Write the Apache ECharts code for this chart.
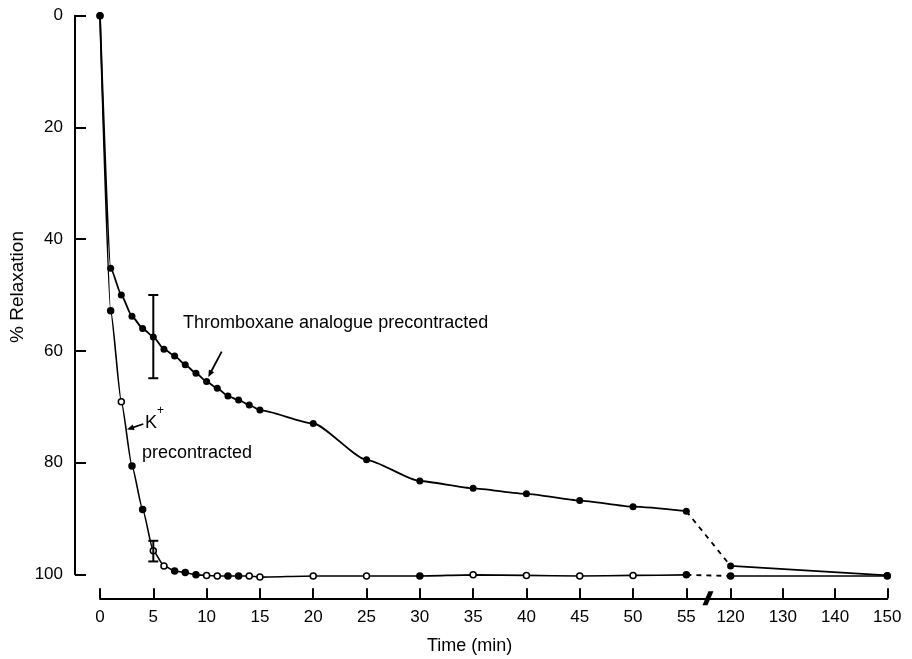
<!DOCTYPE html>
<html>
<head>
<meta charset="utf-8">
<title>% Relaxation vs Time</title>
<script src="https://cdn.jsdelivr.net/npm/echarts@6/dist/echarts.min.js"></script>
<style>
  html, body { margin: 0; padding: 0; background: #fff; }
  #chart { width: 912px; height: 659px; }
</style>
</head>
<body>
<div id="chart"></div>
<script>
// Sampling times (min) and % relaxation for the two precontraction protocols
const times = [0, 1, 2, 3, 4, 5, 6, 7, 8, 9, 10, 11, 12, 13, 14, 15, 20, 25, 30, 35, 40, 45, 50, 55, 120, 150];
const thromboxane = [0, 45.2, 50.0, 53.8, 56.0, 57.5, 59.7, 60.9, 62.5, 64.0, 65.5, 66.7, 68.1, 68.8, 69.7, 70.6,
  73.0, 79.5, 83.3, 84.6, 85.6, 86.8, 87.9, 88.7, 98.5, 100.2];
const potassium = [0, 52.8, 69.1, 80.6, 88.4, 95.8, 98.5, 99.4, 99.7, 100.1, 100.2, 100.3, 100.3, 100.3, 100.3, 100.5,
  100.3, 100.3, 100.3, 100.1, 100.2, 100.3, 100.2, 100.1, 100.3, 100.3];
// Error bars at 5 min: [time, upper, lower]
const thromboxaneErr = [[5, 50.0, 64.9]];
const potassiumErr = [[5, 94.0, 97.7]];
// Axis ticks
const xTickLabels = [0, 5, 10, 15, 20, 25, 30, 35, 40, 45, 50, 55, 120, 130, 140, 150];
const yTickLabels = [0, 20, 40, 60, 80, 100];
// K+ points printed as solid dots (the rest are open circles)
const potassiumSolidAt = [1, 3, 4, 7, 8, 9, 12, 13, 30, 55, 120, 150];

// Broken time axis: 0-55 min at full scale, then a gap, then 120-150 min compressed
const BREAK_FROM = 55, BREAK_TO = 120, BREAK_GAP = 4.15, LATE_SCALE = 0.49;
function toAxis(t) {
  return t <= BREAK_FROM ? t : BREAK_FROM + BREAK_GAP + (t - BREAK_TO) * LATE_SCALE;
}
const xTicks = xTickLabels.map(toAxis);

const FONT = '"Liberation Sans", Arial, Helvetica, sans-serif';
const INK = '#000';

function pairs(vals, from, to) {
  const out = [];
  times.forEach((t, i) => { if (t >= from && t <= to) out.push([toAxis(t), vals[i]]); });
  return out;
}
function potassiumPoints(from, to) {
  const out = [];
  times.forEach((t, i) => {
    if (t < from || t > to) return;
    const solid = potassiumSolidAt.indexOf(t) >= 0;
    out.push({ value: [toAxis(t), potassium[i]], itemStyle: { color: solid ? INK : '#fff' } });
  });
  return out;
}

const thrStyle = {
  type: 'line', symbol: 'circle', symbolSize: 7, clip: false, z: 4,
  itemStyle: { color: INK, borderColor: INK, borderWidth: 0 },
  lineStyle: { color: INK, width: 1.8 }
};
const kStyle = {
  type: 'line', symbol: 'circle', symbolSize: 6, clip: false, z: 3,
  itemStyle: { color: '#fff', borderColor: INK, borderWidth: 1.5 },
  lineStyle: { color: INK, width: 1.6 }
};
const bridge = {
  type: 'line', symbol: 'none', clip: false, z: 2,
  lineStyle: { color: INK, width: 1.8, type: [5, 5] }
};

function errorBars(data) {
  return {
    type: 'custom', clip: false, z: 5,
    data: data.map(d => [toAxis(d[0]), d[1], d[2]]),
    encode: { x: 0, y: [1, 2] },
    renderItem(params, api) {
      const p1 = api.coord([api.value(0), api.value(1)]);
      const p2 = api.coord([api.value(0), api.value(2)]);
      const w = 5;
      const st = { stroke: INK, lineWidth: 2 };
      return {
        type: 'group', children: [
          { type: 'line', shape: { x1: p1[0], y1: p1[1], x2: p2[0], y2: p2[1] }, style: st },
          { type: 'line', shape: { x1: p1[0] - w, y1: p1[1], x2: p1[0] + w, y2: p1[1] }, style: st },
          { type: 'line', shape: { x1: p2[0] - w, y1: p2[1], x2: p2[0] + w, y2: p2[1] }, style: st }
        ]
      };
    }
  };
}

const chart = echarts.init(document.getElementById('chart'), null, { renderer: 'canvas' });

chart.setOption({
  animation: false,
  backgroundColor: '#fff',
  grid: { left: 100, right: 24.7, top: 15.7, bottom: 84.7, containLabel: false },
  xAxis: {
    type: 'value', min: 0, max: toAxis(150), offset: 24,
    axisLine: { show: true, onZero: false, lineStyle: { color: INK, width: 2 } },
    axisTick: { show: true, inside: true, length: 10, customValues: xTicks, lineStyle: { color: INK, width: 2 } },
    axisLabel: {
      customValues: xTicks, color: INK, fontSize: 17, fontFamily: FONT, margin: 11,
      formatter: v => {
        const i = xTicks.findIndex(u => Math.abs(u - v) < 1e-6);
        return i >= 0 ? String(xTickLabels[i]) : '';
      }
    },
    splitLine: { show: false }
  },
  yAxis: {
    type: 'value', inverse: true, min: 0, max: 100, interval: 20, offset: 25,
    axisLine: { show: true, onZero: false, lineStyle: { color: INK, width: 2 } },
    axisTick: { show: true, inside: true, length: 11, lineStyle: { color: INK, width: 2 } },
    axisLabel: {
      color: INK, fontSize: 17, fontFamily: FONT, margin: 12,
      formatter: v => (yTickLabels.indexOf(v) >= 0 ? String(v) : '')
    },
    splitLine: { show: false }
  },
  series: [
    Object.assign({}, bridge, { data: pairs(potassium, 55, 120) }),
    Object.assign({}, bridge, { data: pairs(thromboxane, 55, 120) }),
    Object.assign({}, kStyle, { name: 'K+ precontracted', smooth: 0.2, smoothMonotone: 'x', data: potassiumPoints(0, 55) }),
    Object.assign({}, kStyle, { name: 'K+ late', data: potassiumPoints(120, 150) }),
    Object.assign({}, thrStyle, { name: 'Thromboxane analogue precontracted', smooth: 0.2, smoothMonotone: 'x', data: pairs(thromboxane, 0, 55) }),
    Object.assign({}, thrStyle, { name: 'Thromboxane late', data: pairs(thromboxane, 120, 150) }),
    errorBars(thromboxaneErr),
    errorBars(potassiumErr)
  ]
});

// Annotations, axis titles and the axis-break mark
function arrow(x1, y1, x2, y2) {
  const dx = x2 - x1, dy = y2 - y1, len = Math.hypot(dx, dy);
  const ux = dx / len, uy = dy / len, nx = -uy, ny = ux;
  const hl = 7, hw = 3;
  return [
    { type: 'line', shape: { x1, y1, x2: x2 - ux * hl * 0.6, y2: y2 - uy * hl * 0.6 }, style: { stroke: INK, lineWidth: 1.8 } },
    { type: 'polygon', shape: { points: [[x2, y2], [x2 - ux * hl + nx * hw, y2 - uy * hl + ny * hw], [x2 - ux * hl - nx * hw, y2 - uy * hl - ny * hw]] }, style: { fill: INK } }
  ];
}

const bx = chart.convertToPixel({ xAxisIndex: 0 }, (toAxis(BREAK_FROM) + toAxis(BREAK_TO)) / 2);
const by = chart.convertToPixel({ yAxisIndex: 0 }, 100) + 24;
const gx = (chart.convertToPixel({ xAxisIndex: 0 }, 0) + chart.convertToPixel({ xAxisIndex: 0 }, toAxis(150))) / 2;

const textStyle = (txt, size, extra) => Object.assign({ text: txt, fill: INK, font: size + 'px ' + FONT }, extra || {});

chart.setOption({
  graphic: [
    { type: 'text', x: 18, y: 287, rotation: Math.PI / 2,
      style: textStyle('% Relaxation', 19, { align: 'center', verticalAlign: 'middle' }) },
    { type: 'text', x: gx - 24, y: 646,
      style: textStyle('Time (min)', 18, { align: 'center', verticalAlign: 'middle' }) },
    { type: 'text', x: 183, y: 323,
      style: textStyle('Thromboxane analogue precontracted', 18, { align: 'left', verticalAlign: 'middle' }) },
    { type: 'text', x: 145, y: 423,
      style: textStyle('K', 18, { align: 'left', verticalAlign: 'middle' }) },
    { type: 'text', x: 157, y: 411,
      style: textStyle('+', 12, { align: 'left', verticalAlign: 'middle' }) },
    { type: 'text', x: 142, y: 453,
      style: textStyle('precontracted', 18, { align: 'left', verticalAlign: 'middle' }) },
    ...arrow(221.7, 351.7, 208.3, 377),
    ...arrow(143.3, 424, 127, 429.5),
    { type: 'polygon', z: 10,
      shape: { points: [[bx - 6, by + 7], [bx - 1, by + 7], [bx + 5, by - 7], [bx, by - 7]] },
      style: { fill: INK } }
  ]
});
</script>
</body>
</html>
